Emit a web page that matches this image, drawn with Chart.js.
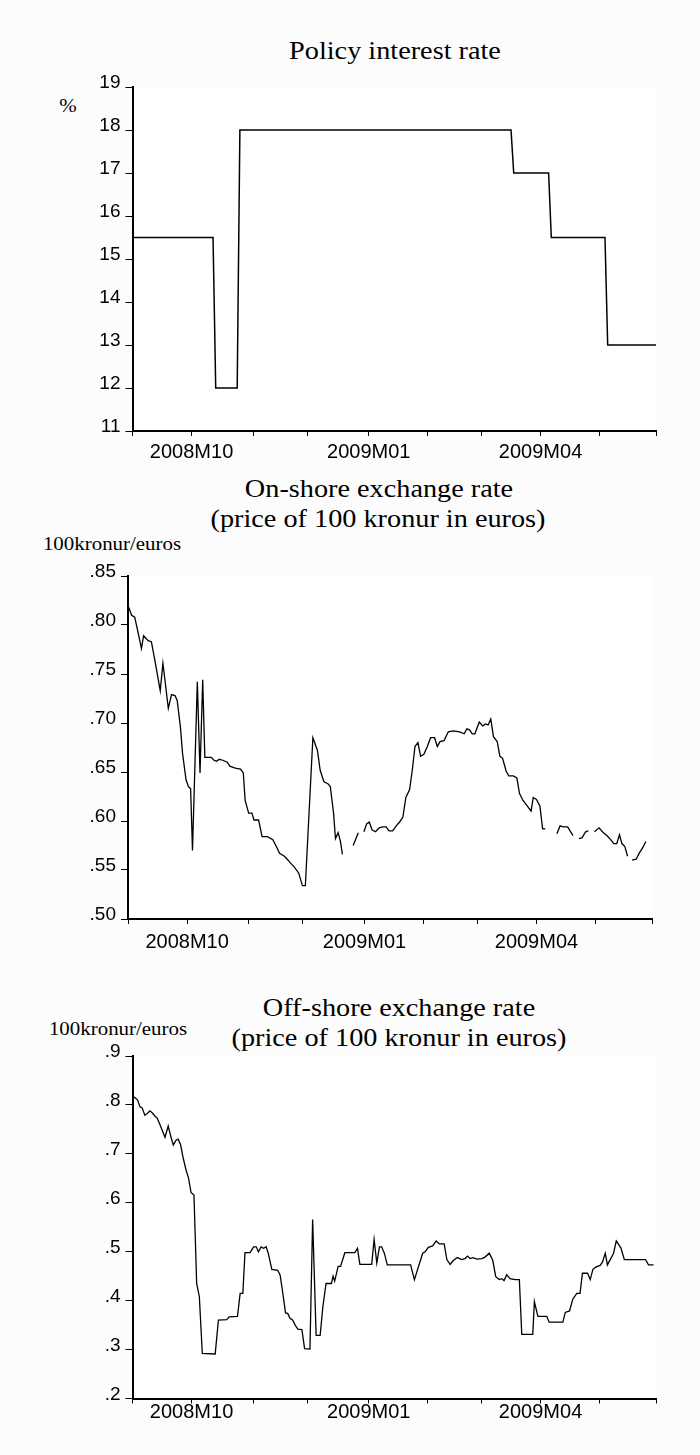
<!DOCTYPE html>
<html>
<head>
<meta charset="utf-8">
<title>Policy rate and exchange rates</title>
<script src="https://cdn.jsdelivr.net/npm/chart.js@4.4.1/dist/chart.umd.min.js"></script>
<style>
  body { margin: 0; background: #fcfcfc; }
  #page { position: relative; width: 700px; height: 1455px; overflow: hidden; }
  canvas { position: absolute; left: 0; }
  .title, .unit {
    position: absolute;
    white-space: nowrap;
    line-height: 1;
    color: #000;
    font-family: 'Liberation Serif', 'Times New Roman', serif;
    transform: translate(-50%, -50%) scaleX(1.13);
  }
  .title { font-size: 25px; }
  .unit { font-size: 18.5px; }
</style>
</head>
<body>
<div id="page">
  <div class="title" style="left:395px; top:50px;">Policy interest rate</div>
  <div class="unit" style="left:68px; top:106px;">%</div>
  <canvas id="policy-chart"></canvas>

  <div class="title" style="left:379px; top:488px;">On-shore exchange rate</div>
  <div class="title" style="left:378px; top:518px;">(price of 100 kronur in euros)</div>
  <div class="unit" style="left:112px; top:544px;">100kronur/euros</div>
  <canvas id="onshore-chart"></canvas>

  <div class="title" style="left:399px; top:1007px;">Off-shore exchange rate</div>
  <div class="title" style="left:399px; top:1037px;">(price of 100 kronur in euros)</div>
  <div class="unit" style="left:118px; top:1029px;">100kronur/euros</div>
  <canvas id="offshore-chart"></canvas>
</div>

<script>
// Eixo x: dias úteis contados desde 1 set 2008 (início de cada mês)
const monthStartDays = [0, 22, 45, 65, 88, 110, 130, 152, 174, 195];
const monthLabels = ['', '2008M10', '', '', '2009M01', '', '', '2009M04', '', ''];

const policyDays = [0, 30, 31, 39, 40, 141, 142, 155, 156, 176, 177, 195];
const policyRates = [15.5, 15.5, 12, 12, 18, 18, 17, 17, 15.5, 15.5, 13, 13];
const policyTicks = [11, 12, 13, 14, 15, 16, 17, 18, 19];

// Câmbio on-shore (null = sem cotação)
const onshoreDays = [
  0, 1.35, 2.5, 3.7, 5.0, 5.8, 7.5, 8.7, 10.0, 12.0, 13.0, 15.0, 16.2, 17.5, 18.3, 19.5, 20.3, 21.6, 22.5, 23.3,
  24.0, 25.8, 26.8, 27.8, 28.6, 31.0, 32.0, 33.0, 33.9, 35.3, 36.9, 37.9, 38.9, 39.9, 41.9, 42.9, 43.6, 44.9, 46.1, 46.9,
  48.6, 49.9, 51.9, 53.9, 55.2, 56.4, 58.2, 59.6, 60.5, 61.9, 63.5, 64.9, 66.0, 68.8, 70.5, 71.5, 72.9, 74.4, 75.3, 76.5,
  77.2, 78.2, 79.0, 79.8, 82.0, 83.8, 85.7, 86.8, 87.8, 88.8, 89.8, 90.8, 92.1, 93.5, 94.8, 96.1, 97.1, 98.5, 99.8, 101.1,
  102.3, 103.4, 104.8, 105.8, 106.8, 107.9, 108.9, 110.1, 111.4, 112.6, 114.1, 115.1, 116.1, 117.6, 119.2, 121.1, 123.4, 125.1, 126.1, 127.1,
  128.1, 129.1, 130.7, 132.0, 133.0, 134.0, 135.0, 136.0, 137.4, 138.4, 139.4, 140.7, 141.7, 143.4, 144.7, 145.7, 147.0, 148.7, 150.0, 150.8,
  152.0, 153.3, 154.3, 155.3, 157.5, 159.6, 160.8, 162.0, 163.6, 165.6, 166.7, 167.8, 169.0, 170.3, 171.3, 172.5, 173.6, 175.3, 176.9, 178.3,
  179.6, 180.8, 181.9, 182.9, 183.8, 184.9, 185.9, 186.8, 187.6, 189.1, 190.2, 191.6, 192.7
];
const onshoreRates = [
  .820, .810, .808, .793, .776, .789, .784, .783, .764, .733, .761, .715, .729, .728, .723, .696, .669, .642, .635, .633,
  .570, .742, .649, .744, .665, .665, .662, .661, .663, .662, .660, .656, .655, .654, .653, .649, .621, .608, .608, .601,
  .601, .584, .584, .581, .574, .567, .564, .560, .557, .553, .547, .534, .534, .685, .672, .652, .640, .638, .635, .608,
  .582, .588, .580, .566, null, .575, .588, null, .589, .597, .599, .591, .589, .593, .594, .594, .590, .590, .595, .599,
  .604, .624, .632, .652, .676, .680, .666, .668, .676, .685, .685, .676, .681, .682, .691, .692, .691, .689, .694, .693,
  .689, .689, .701, .697, .699, .698, .704, .686, .681, .666, .664, .651, .646, .646, .644, .628, .621, .615, .610, .624,
  .622, .615, .592, .592, null, .587, .595, .594, .594, .585, null, .582, .583, .589, .590, null, .589, .593, .588, .585,
  .581, .577, .577, .586, .577, .574, .564, null, .560, .561, .567, .573, .579
];
const onshoreTicks = [.50, .55, .60, .65, .70, .75, .80, .85];

// Câmbio off-shore
const offshoreDays = [
  0, 0.9, 1.9, 2.8, 3.6, 4.6, 5.6, 6.5, 7.5, 8.4, 9.2, 10.2, 12.1, 13.3, 14.3, 15.2, 16.2, 17.0, 17.9, 18.9,
  19.9, 20.9, 21.8, 22.9, 23.9, 24.9, 26.0, 30.8, 32.0, 35.1, 36.0, 39.1, 40.1, 41.1, 41.9, 43.8, 45.1, 46.1, 46.9, 47.9,
  48.8, 49.8, 50.6, 51.9, 54.1, 55.0, 56.0, 57.0, 57.8, 58.7, 59.7, 60.6, 61.6, 63.1, 64.1, 66.1, 67.1, 68.4, 69.9, 70.9,
  72.1, 74.1, 74.7, 75.3, 76.6, 77.5, 79.1, 82.8, 83.8, 84.7, 89.1, 90.0, 91.0, 92.0, 92.8, 93.8, 94.9, 103.6, 105.0, 106.9,
  108.1, 109.0, 110.2, 111.8, 113.1, 114.3, 116.1, 117.1, 118.3, 119.5, 121.0, 122.6, 123.9, 124.8, 125.8, 126.8, 128.3, 130.1, 131.3, 132.9,
  134.2, 135.3, 136.6, 137.6, 138.4, 139.4, 140.6, 142.5, 144.1, 145.0, 149.1, 149.7, 151.0, 154.3, 155.2, 160.3, 161.2, 162.8, 164.0, 165.5,
  166.7, 167.6, 169.5, 170.5, 171.5, 172.7, 174.2, 175.1, 176.1, 176.9, 179.2, 180.2, 181.9, 183.2, 191.1, 192.2, 194.1
];
const offshoreRates = [
  .817, .815, .810, .796, .794, .779, .783, .788, .783, .777, .773, .760, .734, .757, .735, .718, .728, .730, .719, .691,
  .668, .650, .621, .616, .435, .408, .292, .291, .360, .361, .367, .368, .415, .415, .498, .498, .510, .510, .500, .510,
  .507, .510, .496, .464, .462, .452, .415, .375, .374, .364, .360, .350, .342, .341, .302, .301, .566, .329, .329, .387,
  .435, .435, .450, .440, .470, .470, .498, .498, .507, .474, .474, .525, .477, .510, .510, .497, .473, .473, .443, .476,
  .497, .500, .509, .512, .522, .516, .516, .484, .474, .482, .488, .484, .486, .491, .486, .488, .485, .486, .489, .497,
  .482, .449, .443, .445, .441, .453, .445, .443, .443, .331, .331, .398, .368, .368, .356, .356, .376, .379, .403, .415,
  .415, .456, .456, .443, .464, .469, .472, .479, .497, .473, .497, .522, .508, .484, .484, .473, .473
];
const offshoreTicks = [.2, .3, .4, .5, .6, .7, .8, .9];

// Fundo branco só na área do gráfico
const plotBackground = {
  id: 'plotBackground',
  beforeDraw(chart) {
    const a = chart.chartArea;
    const ctx = chart.ctx;
    ctx.save();
    ctx.fillStyle = '#ffffff';
    ctx.fillRect(a.left, a.top, a.right - a.left, a.bottom - a.top);
    ctx.restore();
  }
};

function toPoints(days, values) {
  return days.map((d, i) => ({ x: d, y: values[i] }));
}

// Cria um painel: posição do canvas e da área do gráfico em px da página
function drawPanel(id, canvasTop, canvasHeight, area, days, values, yTicks, yFormat, xLabelPad, lineWidth) {
  const canvas = document.getElementById(id);
  canvas.width = 700;
  canvas.height = canvasHeight;
  canvas.style.top = canvasTop + 'px';

  return new Chart(canvas.getContext('2d'), {
    type: 'line',
    data: {
      datasets: [{
        data: toPoints(days, values),
        borderColor: '#000',
        borderWidth: lineWidth,
        pointRadius: 0,
        tension: 0,
        spanGaps: false
      }]
    },
    options: {
      responsive: false,
      animation: false,
      events: [],
      layout: {
        padding: { top: area.top - canvasTop, right: 700 - area.right, left: 0, bottom: 0 }
      },
      plugins: {
        legend: { display: false },
        tooltip: { enabled: false }
      },
      scales: {
        x: {
          type: 'linear',
          min: 0,
          max: 195,
          afterBuildTicks: (scale) => { scale.ticks = monthStartDays.map(v => ({ value: v })); },
          afterFit: (scale) => { scale.height = canvasTop + canvasHeight - area.bottom; },
          ticks: {
            autoSkip: false,
            maxRotation: 0,
            padding: xLabelPad,
            color: '#000',
            font: { family: "'Liberation Sans', Arial, sans-serif", size: 20 },
            callback: (value, index) => monthLabels[index]
          },
          grid: { drawOnChartArea: false, tickLength: 5, tickColor: '#000', tickWidth: 1 },
          border: { display: true, color: '#000', width: 2 }
        },
        y: {
          min: yTicks[0],
          max: yTicks[yTicks.length - 1],
          afterBuildTicks: (scale) => { scale.ticks = yTicks.map(v => ({ value: v })); },
          afterFit: (scale) => { scale.width = area.left; },
          ticks: {
            padding: 5,
            labelOffset: -4,
            color: '#000',
            font: { family: "'Liberation Sans', Arial, sans-serif", size: 19 },
            callback: (value) => yFormat(value)
          },
          grid: { drawOnChartArea: false, tickLength: 7, tickColor: '#000', tickWidth: 1 },
          border: { display: true, color: '#000', width: 2 }
        }
      }
    },
    plugins: [plotBackground]
  });
}

drawPanel('policy-chart', 0, 470, { left: 132.5, right: 656, top: 87, bottom: 431 },
  policyDays, policyRates, policyTicks, v => String(v), 4, 1.5);

drawPanel('onshore-chart', 470, 490, { left: 128, right: 652, top: 576, bottom: 919 },
  onshoreDays, onshoreRates, onshoreTicks, v => v.toFixed(2).replace(/^0/, ''), 6, 1.3);

drawPanel('offshore-chart', 960, 495, { left: 132.5, right: 656, top: 1056, bottom: 1398.5 },
  offshoreDays, offshoreRates, offshoreTicks, v => v.toFixed(1).replace(/^0/, ''), -3, 1.3);
</script>
</body>
</html>
